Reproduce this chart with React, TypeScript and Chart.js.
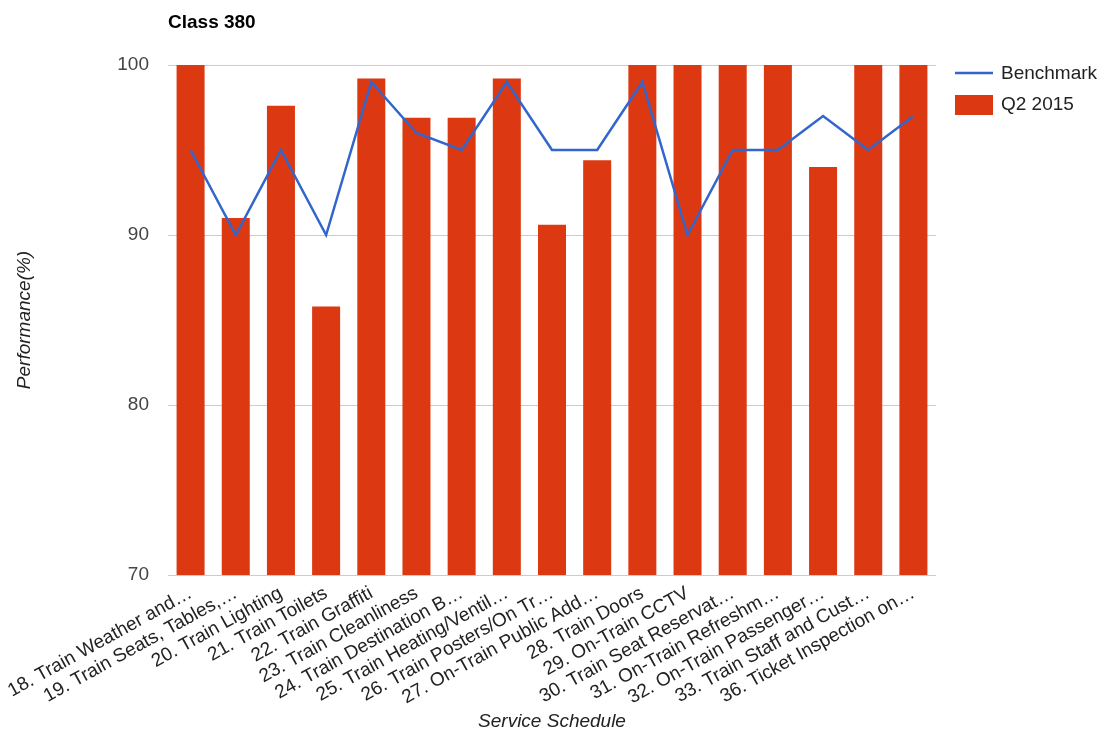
import React, { useEffect, useRef } from "react";
import { Chart, registerables } from "chart.js";

Chart.register(...registerables);

const categories = [
  "18. Train Weather and…",
  "19. Train Seats, Tables,…",
  "20. Train Lighting",
  "21. Train Toilets",
  "22. Train Graffiti",
  "23. Train Cleanliness",
  "24. Train Destination B…",
  "25. Train Heating/Ventil…",
  "26. Train Posters/On Tr…",
  "27. On-Train Public Add…",
  "28. Train Doors",
  "29. On-Train CCTV",
  "30. Train Seat Reservat…",
  "31. On-Train Refreshm…",
  "32. On-Train Passenger…",
  "33. Train Staff and Cust…",
  "36. Ticket Inspection on…",
];

const benchmark = [95, 90, 95, 90, 99, 96, 95, 99, 95, 95, 99, 90, 95, 95, 97, 95, 97];
const q2_2015 = [100, 91, 97.6, 85.8, 99.2, 96.9, 96.9, 99.2, 90.6, 94.4, 100, 100, 100, 100, 94, 100, 100];

const yTicks = [70, 80, 90, 100];

const seriesNames = ["Benchmark", "Q2 2015"];
const title = "Class 380";

const FONT = "'Liberation Sans', Arial, sans-serif";
const BLUE = "#3366cc";
const RED = "#dc3912";

const decorPlugin = {
  id: "decor",
  afterDraw(chart: any) {
    const ctx = chart.ctx;
    const area = chart.chartArea;
    ctx.save();
    // title
    ctx.fillStyle = "#000";
    ctx.font = `bold 19px ${FONT}`;
    ctx.textAlign = "left";
    ctx.textBaseline = "middle";
    ctx.fillText(title, area.left, 23);
    // legend
    const lx = area.right + 19;
    ctx.strokeStyle = BLUE;
    ctx.lineWidth = 2.5;
    ctx.beginPath();
    ctx.moveTo(lx, 73);
    ctx.lineTo(lx + 38, 73);
    ctx.stroke();
    ctx.fillStyle = RED;
    ctx.fillRect(lx, 95, 38, 20);
    ctx.fillStyle = "#222";
    ctx.font = `19px ${FONT}`;
    ctx.fillText(seriesNames[0], lx + 46, 74);
    ctx.fillText(seriesNames[1], lx + 46, 105);
    ctx.restore();
  },
};

export default function App() {
  const ref = useRef<HTMLCanvasElement | null>(null);

  useEffect(() => {
    document.body.style.margin = "0";
    if (!ref.current) return;
    Chart.defaults.font.family = FONT;
    const chart = new Chart(ref.current, {
      type: "bar",
      data: {
        labels: categories,
        datasets: [
          {
            type: "line",
            label: seriesNames[0],
            data: benchmark,
            borderColor: BLUE,
            backgroundColor: BLUE,
            borderWidth: 2.5,
            pointRadius: 0,
            tension: 0,
            order: 0,
          } as any,
          {
            type: "bar",
            label: seriesNames[1],
            data: q2_2015,
            backgroundColor: RED,
            barPercentage: 0.62,
            categoryPercentage: 1,
            order: 1,
          },
        ],
      },
      options: {
        animation: false,
        responsive: false,
        devicePixelRatio: 1,
        layout: { padding: { top: 65, right: 167, left: 0, bottom: 0 } },
        plugins: {
          legend: { display: false },
          tooltip: { enabled: false },
        },
        scales: {
          x: {
            grid: { display: false, drawTicks: false },
            border: { display: false },
            ticks: {
              minRotation: 29,
              maxRotation: 29,
              autoSkip: false,
              padding: 7,
              color: "#222",
              font: { size: 19 },
            },
            title: {
              display: true,
              text: "Service Schedule",
              color: "#222",
              font: { size: 19, style: "italic" },
              padding: { top: 4, bottom: 0 },
            },
            afterFit(scale: any) {
              scale.height = 158;
              scale.paddingLeft = 0;
              scale.paddingRight = 0;
            },
          },
          y: {
            min: 70,
            max: 100,
            afterBuildTicks(scale: any) {
              scale.ticks = yTicks.map((v) => ({ value: v }));
            },
            grid: { color: "#cccccc", lineWidth: 1, drawTicks: false },
            border: { display: false },
            ticks: {
              padding: 19,
              color: "#444",
              font: { size: 19 },
            },
            title: {
              display: true,
              text: "Performance(%)",
              color: "#222",
              font: { size: 19, style: "italic" },
              padding: { top: 13, bottom: 4 },
            },
            afterFit(scale: any) {
              scale.width = 168;
            },
          },
        },
      },
      plugins: [decorPlugin],
    });
    return () => chart.destroy();
  }, []);

  return (
    <div style={{ width: 1103, height: 733 }}>
      <canvas ref={ref} width={1103} height={733} style={{ display: "block" }} />
    </div>
  );
}
